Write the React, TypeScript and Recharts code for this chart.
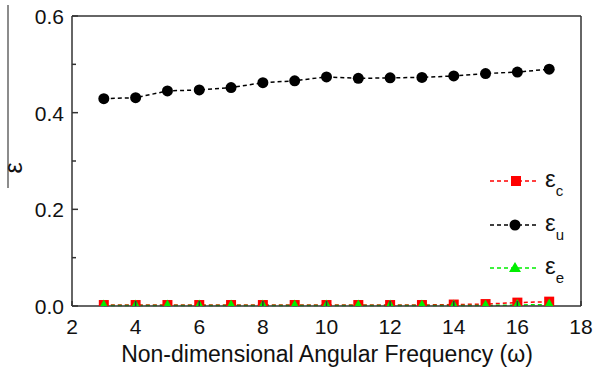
import React from 'react'
import { LineChart, Line, XAxis, YAxis, ReferenceLine } from 'recharts'

const omega = [3, 4, 5, 6, 7, 8, 9, 10, 11, 12, 13, 14, 15, 16, 17]
const epsC = [0.002, 0.002, 0.002, 0.002, 0.002, 0.002, 0.002, 0.002, 0.002, 0.002, 0.002, 0.003, 0.004, 0.007, 0.009]
const epsU = [0.429, 0.431, 0.445, 0.447, 0.452, 0.462, 0.466, 0.474, 0.471, 0.472, 0.473, 0.476, 0.481, 0.484, 0.49]
const epsE = [0.001, 0.001, 0.001, 0.001, 0.001, 0.001, 0.001, 0.001, 0.001, 0.001, 0.001, 0.001, 0.001, 0.002, 0.003]

const xTicks = [2, 4, 6, 8, 10, 12, 14, 16, 18]
const yTicks = [0, 0.1, 0.2, 0.3, 0.4, 0.5, 0.6]
const yLabels = ['0.0', '0.2', '0.4', '0.6']

const data = omega.map((w, i) => ({ w, c: epsC[i], u: epsU[i], e: epsE[i] }))

const FONT = '"Liberation Sans", Arial, sans-serif'
const AXIS = '#333'
// markers sitting on the x axis are cut by the plot frame, like the original
const CLIP = 'url(#plotClip)'

const circleDot = (p: any) => <circle key={p.index} cx={p.cx} cy={p.cy} r={5.5} fill="#000" clipPath={CLIP} />
const squareDot = (p: any) => (
  <rect key={p.index} x={p.cx - 5} y={p.cy - 5} width={10} height={10} fill="#ff0000" clipPath={CLIP} />
)
const triDot = (p: any) => (
  <polygon key={p.index} points={`${p.cx},${p.cy - 6} ${p.cx - 5.5},${p.cy + 4} ${p.cx + 5.5},${p.cy + 4}`} fill="#00ee00" clipPath={CLIP} />
)

const YTick = (p: any) => {
  const v = p.payload.value
  const ax = p.x + 6
  const lbl = yLabels.find(s => Math.abs(parseFloat(s) - v) < 1e-6)
  return (
    <g>
      <line x1={ax} x2={ax + (lbl ? 6 : 4)} y1={p.y} y2={p.y} stroke={AXIS} strokeWidth={1.5} />
      {lbl && (
        <text x={p.x - 2} y={p.y + 8} textAnchor="end" fontSize={21} fontFamily={FONT} fill="#111">{lbl}</text>
      )}
    </g>
  )
}

const XTick = (p: any) => {
  const ay = p.y - 4
  return (
    <g>
      <line x1={p.x} x2={p.x} y1={ay} y2={ay - 5} stroke={AXIS} strokeWidth={1.5} />
      <text x={p.x} y={p.y + 24} textAnchor="middle" fontSize={21} fontFamily={FONT} fill="#111">{p.payload.value}</text>
    </g>
  )
}

function LegendRow({ y, color, sub, mark }: { y: number; color: string; sub: string; mark: 'sq' | 'ci' | 'tr' }) {
  return (
    <g>
      <line x1={490} x2={536} y1={y} y2={y} stroke={color} strokeWidth={1.5} strokeDasharray="4 3" />
      {mark === 'sq' && <rect x={511} y={y - 5} width={10} height={10} fill={color} />}
      {mark === 'ci' && <circle cx={515} cy={y} r={5.5} fill={color} />}
      {mark === 'tr' && <polygon points={`515,${y - 6} 509,${y + 4} 521,${y + 4}`} fill={color} />}
      <text x={545} y={y + 6} fontSize={24} fontFamily={FONT} fill="#111">
        ε<tspan fontSize={15} dy={9}>{sub}</tspan>
      </text>
    </g>
  )
}

export default function App() {
  return (
    <div style={{ position: 'fixed', left: 0, top: 0, width: 596, height: 373, background: '#fff' }}>
      <svg width={0} height={0} style={{ position: 'absolute' }}>
        <defs>
          <clipPath id="plotClip" clipPathUnits="userSpaceOnUse">
            <rect x={72} y={16} width={509} height={290} />
          </clipPath>
        </defs>
      </svg>
      <LineChart width={596} height={373} data={data} margin={{ top: 16, right: 15, left: 0, bottom: 0 }} style={{ overflow: 'visible' }}>
        <XAxis
          dataKey="w"
          type="number"
          domain={[2, 18]}
          ticks={xTicks}
          height={67}
          tickLine={false}
          tickSize={0}
          tickMargin={4}
          tick={<XTick />}
          axisLine={{ stroke: AXIS, strokeWidth: 1.5 }}
        />
        <YAxis
          type="number"
          domain={[0, 0.6]}
          ticks={yTicks}
          width={72}
          tickLine={false}
          tickSize={0}
          tickMargin={6}
          tick={<YTick />}
          interval={0}
          axisLine={{ stroke: AXIS, strokeWidth: 1.5 }}
        />
        <ReferenceLine y={0.6} stroke={AXIS} strokeWidth={1.5} ifOverflow="visible" />
        <ReferenceLine x={18} stroke={AXIS} strokeWidth={1.5} ifOverflow="visible" />
        <Line dataKey="u" stroke="#000" strokeWidth={1.5} strokeDasharray="4 3" dot={circleDot} isAnimationActive={false} />
        <Line dataKey="c" stroke="#ff0000" strokeWidth={1.5} strokeDasharray="4 3" dot={squareDot} isAnimationActive={false} />
        <Line dataKey="e" stroke="#00ee00" strokeWidth={1.5} strokeDasharray="4 3" dot={triDot} isAnimationActive={false} />
      </LineChart>
      <svg width={596} height={373} style={{ position: 'absolute', left: 0, top: 0, pointerEvents: 'none' }}>
        <line x1={8} x2={8} y1={5} y2={188} stroke="#666" strokeWidth={1.5} />
        <text x={0} y={0} transform="translate(22,168) rotate(-90)" textAnchor="middle" fontSize={25} fontFamily={FONT} fill="#111">ε</text>
        <text x={327} y={362} textAnchor="middle" fontSize={23} fontFamily={FONT} fill="#111">Non-dimensional Angular Frequency (ω)</text>
        <LegendRow y={181} color="#ff0000" sub="c" mark="sq" />
        <LegendRow y={225} color="#000" sub="u" mark="ci" />
        <LegendRow y={268} color="#00ee00" sub="e" mark="tr" />
      </svg>
    </div>
  )
}
